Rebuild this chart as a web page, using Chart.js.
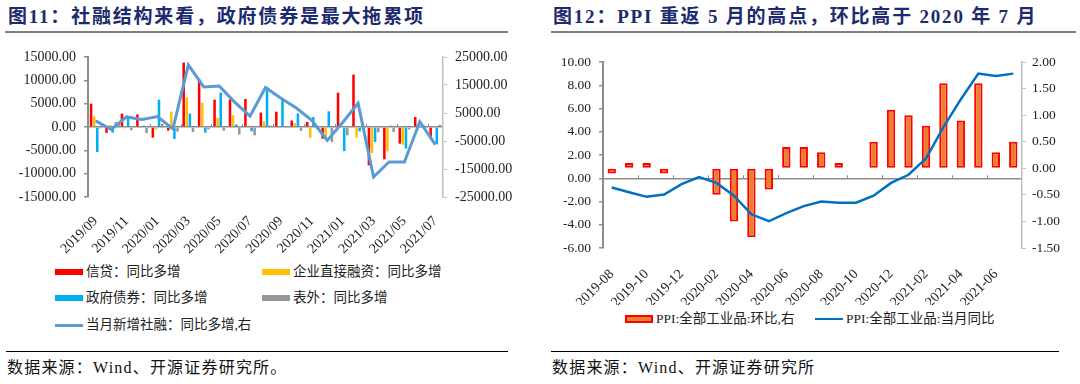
<!DOCTYPE html>
<html>
<head>
<meta charset="utf-8">
<script src="https://cdn.jsdelivr.net/npm/chart.js@4.4.1/dist/chart.umd.min.js"></script>
<style>
  body { margin: 0; width: 1080px; height: 384px; background: #fff; position: relative; overflow: hidden;
         font-family: "Liberation Serif", "Noto Sans CJK SC", serif; }
  .title { position: absolute; top: 5px; font-size: 19px; letter-spacing: 1.8px; font-weight: bold; color: #1d2b6e; white-space: nowrap; line-height: 24px; }
  .rule { position: absolute; top: 31px; height: 2px; background: #808080; }
  .foot { position: absolute; top: 351px; height: 1px; background: #000; }
  .src { position: absolute; top: 358px; font-size: 16px; letter-spacing: 1.2px; line-height: 20px; color: #111; white-space: nowrap; }
  .lg { position: absolute; font-size: 13.5px; line-height: 16px; color: #222; white-space: nowrap; display: flex; align-items: center; }
  .sw { display: inline-block; width: 28px; margin-right: 3px; box-sizing: border-box; }
  canvas { position: absolute; }
</style>
</head>
<body>

<div class="title" style="left:8px">图11：社融结构来看，政府债券是最大拖累项</div>
<div class="rule" style="left:5px;width:503px"></div>
<div class="title" style="left:553px">图12：PPI 重返 5 月的高点，环比高于 2020 年 7 月</div>
<div class="rule" style="left:551px;width:525px"></div>

<canvas id="tsfChart" width="520" height="215" style="left:0;top:40px"></canvas>
<canvas id="ppiChart" width="535" height="265" style="left:545px;top:40px"></canvas>
<div id="tsfLegend"></div>
<div id="ppiLegend"></div>

<div class="foot" style="left:6px;width:502px"></div>
<div class="src" style="left:7px">数据来源：Wind、开源证券研究所。</div>
<div class="foot" style="left:551px;width:508px"></div>
<div class="src" style="left:552px">数据来源：Wind、开源证券研究所</div>

<script>
// 图11 社融结构 (亿元)
const tsfMonths = ['2019/09','2019/10','2019/11','2019/12','2020/01','2020/02','2020/03','2020/04',
  '2020/05','2020/06','2020/07','2020/08','2020/09','2020/10','2020/11','2020/12','2021/01',
  '2021/02','2021/03','2021/04','2021/05','2021/06','2021/07']
const credit = [5000, -1250, 2860, 2700, -2290, -750, 13800, 10150, 5860, 5900, 6000, 3100,
  3280, 1400, 1070, -2500, 7360, 11210, -8210, -6930, -3570, 2140, -2500]
const corpFinancing = [2300, 450, -300, -200, -550, 3300, 6350, 5200, 1930, 2500, 300, 1210,
  -200, 860, -2320, -2250, 0, -2290, -5570, -5210, -3790, 0, 200]
const govBonds = [-5360, -1210, 2140, 300, 5860, -2570, 2860, -1210, 7400, 550, -930, 8570,
  6210, 2930, 2140, 3360, -5170, -930, -3210, 290, -4640, -200, -3710]
const offBalance = [-300, 1070, -700, -1300, 710, -1000, -1070, -500, -800, -1600, -1790, 300,
  -200, -830, -300, -3210, -1790, -300, -1140, -1070, -500, 300, 470]
const tsfTotal = [2200, -900, 3600, 2700, 3700, -700, 22200, 14300, 14650, 8900, 3900, 14100,
  10300, 6800, 2400, -4800, 1600, 8500, -17900, -12500, -12500, 1900, -6300]

// 图12 PPI (%)
const ppiMonths = ['2019-08','2019-09','2019-10','2019-11','2019-12','2020-01','2020-02','2020-03',
  '2020-04','2020-05','2020-06','2020-07','2020-08','2020-09','2020-10','2020-11','2020-12',
  '2021-01','2021-02','2021-03','2021-04','2021-05','2021-06','2021-07']
const ppiMom = [-0.1, 0.1, 0.1, -0.1, 0, 0, -0.5, -1.0, -1.3, -0.4, 0.4, 0.4, 0.3, 0.1, 0, 0.5,
  1.1, 1.0, 0.8, 1.6, 0.9, 1.6, 0.3, 0.5]
const ppiYoy = [-0.8, -1.2, -1.6, -1.4, -0.5, 0.1, -0.4, -1.5, -3.1, -3.7, -3.0, -2.4, -2.0, -2.1,
  -2.1, -1.5, -0.4, 0.3, 1.7, 4.4, 6.8, 9.0, 8.8, 9.0]

const numFont = { family: '"Liberation Serif", "Times New Roman", serif', size: 14 }
const axisGray = '#8c8c8c'

// little tick marks on the zero line, every two categories
const zeroTicks = {
  id: 'zeroTicks',
  beforeDatasetsDraw(chart, args, opts) {
    const x = chart.scales.x
    const y0 = chart.scales[opts.axis].getPixelForValue(0)
    const half = (x.getPixelForValue(1) - x.getPixelForValue(0)) / 2
    const c = chart.ctx
    c.save()
    c.strokeStyle = opts.color
    c.lineWidth = 1
    for (let i = 2; i < chart.data.labels.length; i += 2) {
      const px = Math.round(x.getPixelForValue(i) - half) + 0.5
      c.beginPath()
      c.moveTo(px, y0)
      c.lineTo(px, y0 - 3)
      c.stroke()
    }
    c.restore()
  }
}

const zeroGrid = (w) => ({
  color: c => c.tick.value === 0 ? axisGray : 'rgba(0,0,0,0)',
  lineWidth: w,
  tickColor: axisGray,
  tickLength: 4
})

const tsfChart = new Chart(document.getElementById('tsfChart'), {
  type: 'bar',
  data: {
    labels: tsfMonths,
    datasets: [
      { label: '信贷：同比多增', data: credit, backgroundColor: '#ff0000', order: 1 },
      { label: '企业直接融资：同比多增', data: corpFinancing, backgroundColor: '#ffc000', order: 1 },
      { label: '政府债券：同比多增', data: govBonds, backgroundColor: '#00b0f0', order: 1 },
      { label: '表外：同比多增', data: offBalance, backgroundColor: '#969696', order: 1 },
      { label: '当月新增社融：同比多增,右', type: 'line', data: tsfTotal, yAxisID: 'y1',
        borderColor: '#5b9bd5', borderWidth: 3, pointRadius: 0, tension: 0, order: 0 }
    ]
  },
  options: {
    responsive: false,
    animation: false,
    layout: { padding: { top: 17, left: 0, right: 0, bottom: 0 } },
    datasets: { bar: { categoryPercentage: 0.8, barPercentage: 0.82 } },
    plugins: {
      legend: { display: false },
      tooltip: { enabled: false },
      zeroTicks: { axis: 'y', color: axisGray }
    },
    scales: {
      x: {
        grid: { display: false },
        border: { display: false },
        ticks: {
          autoSkip: false, maxRotation: 45, minRotation: 45, padding: 8,
          color: '#222', font: numFont,
          callback: (v, i) => i % 2 === 0 ? tsfMonths[i] : ''
        },
        afterFit: s => { s.height = 58 }
      },
      y: {
        min: -15000, max: 15000,
        ticks: { stepSize: 5000, padding: 8, color: '#222', font: numFont, callback: v => v.toFixed(2) },
        grid: zeroGrid(1.5),
        border: { color: axisGray, width: 2 },
        afterFit: s => { s.width = 88 }
      },
      y1: {
        position: 'right',
        min: -25000, max: 25000,
        ticks: { stepSize: 5000, padding: 8, color: '#222', font: numFont, callback: v => v.toFixed(2) },
        grid: { drawOnChartArea: false, tickColor: '#bfbfbf', tickLength: 4 },
        border: { color: '#bfbfbf', width: 1.5 },
        afterFit: s => { s.width = 77 }
      }
    }
  },
  plugins: [zeroTicks]
})

const ppiChart = new Chart(document.getElementById('ppiChart'), {
  type: 'bar',
  data: {
    labels: ppiMonths,
    datasets: [
      { label: 'PPI:全部工业品:环比,右', data: ppiMom, yAxisID: 'y1',
        backgroundColor: '#ed7d31', borderColor: '#ff0000',
        borderWidth: c => c.raw === 0 ? 0 : 2, borderSkipped: false, order: 1 },
      { label: 'PPI:全部工业品:当月同比', type: 'line', data: ppiYoy, yAxisID: 'y',
        borderColor: '#0070c0', borderWidth: 2.5, pointRadius: 0, tension: 0, order: 0 }
    ]
  },
  options: {
    responsive: false,
    animation: false,
    layout: { padding: { top: 22, left: 0, right: 0, bottom: 0 } },
    datasets: { bar: { categoryPercentage: 1, barPercentage: 0.48 } },
    plugins: {
      legend: { display: false },
      tooltip: { enabled: false },
      zeroTicks: { axis: 'y', color: axisGray }
    },
    scales: {
      x: {
        grid: { display: false },
        border: { display: false },
        ticks: {
          autoSkip: false, maxRotation: 45, minRotation: 45, padding: 10,
          color: '#222', font: numFont,
          callback: (v, i) => i % 2 === 0 ? ppiMonths[i] : ''
        },
        afterFit: s => { s.height = 57 }
      },
      y: {
        min: -6, max: 10,
        ticks: { stepSize: 2, padding: 8, color: '#222', font: { ...numFont, size: 13.5 }, callback: v => v.toFixed(2) },
        grid: zeroGrid(1.5),
        border: { color: axisGray, width: 2 },
        afterFit: s => { s.width = 58 }
      },
      y1: {
        position: 'right',
        min: -1.5, max: 2,
        ticks: { stepSize: 0.5, padding: 6, color: '#222', font: { ...numFont, size: 13.5 }, callback: v => v.toFixed(2) },
        grid: { drawOnChartArea: false, tickColor: '#bfbfbf', tickLength: 4 },
        border: { color: '#bfbfbf', width: 1.5 },
        afterFit: s => { s.width = 58 }
      }
    }
  },
  plugins: [zeroTicks]
})

// html legends built from the chart datasets
function buildLegend(chart, el, spots) {
  chart.data.datasets.forEach((ds, i) => {
    const item = document.createElement('div')
    item.className = 'lg'
    item.style.left = spots[i][0] + 'px'
    item.style.top = spots[i][1] + 'px'
    const sw = document.createElement('span')
    sw.className = 'sw'
    if (ds.type === 'line') {
      sw.style.height = ds.borderWidth + 'px'
      sw.style.background = ds.borderColor
    } else if (typeof ds.borderWidth === 'function') {
      sw.style.height = '8px'
      sw.style.background = ds.backgroundColor
      sw.style.border = '2px solid ' + ds.borderColor
    } else {
      sw.style.height = '6px'
      sw.style.background = ds.backgroundColor
    }
    item.appendChild(sw)
    item.appendChild(document.createTextNode(ds.label))
    el.appendChild(item)
  })
}

buildLegend(tsfChart, document.getElementById('tsfLegend'),
  [[55, 264], [262, 264], [55, 290], [262, 290], [55, 317]])
buildLegend(ppiChart, document.getElementById('ppiLegend'),
  [[625, 311], [815, 311]])
</script>
</body>
</html>
